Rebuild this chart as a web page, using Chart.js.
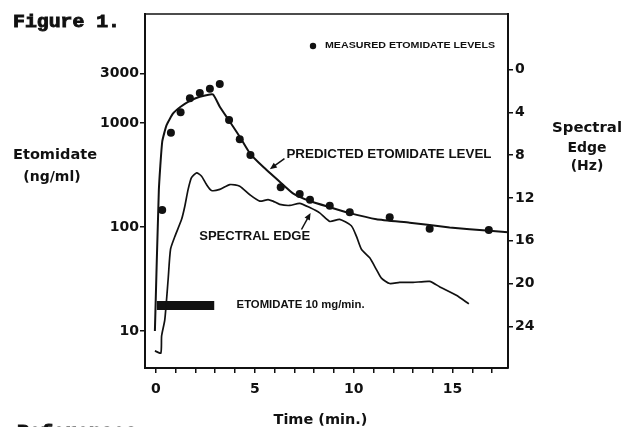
<!DOCTYPE html>
<html>
<head>
<meta charset="utf-8">
<script src="https://cdn.jsdelivr.net/npm/chart.js@4.4.1/dist/chart.umd.min.js"></script>
<style>
  html, body { margin: 0; padding: 0; background: #fff; }
  canvas { display: block; }
</style>
</head>
<body>
<canvas id="chart" width="634" height="427"></canvas>
<script>
// measured plasma levels (dots), ng/ml
const measuredTime = [0.32, 0.76, 1.25, 1.72, 2.22, 2.73, 3.23, 3.70, 4.24, 4.78, 6.31, 7.27, 7.79, 8.79, 9.80, 11.82, 13.84, 16.83];
const measuredLevel = [146, 807, 1268, 1728, 1941, 2138, 2371, 1069, 697, 492, 241, 208, 183, 160, 139, 124, 96, 93.5];

// predicted level curve, ng/ml
const predictedTime = [-0.05, 0.15, 0.32, 0.54, 0.87, 1.25, 1.72, 2.22, 2.88, 3.23, 3.74, 4.24, 4.75, 5.42, 6.26, 6.93, 7.78, 8.79, 9.80, 11.15, 12.83, 14.85, 16.87, 17.8];
const predictedLevel = [10, 227, 661, 955, 1239, 1435, 1637, 1790, 1888, 1435, 1029, 738, 512, 380, 273, 211, 178, 155, 136, 119, 110, 99, 92, 89];

// spectral edge, Hz (right axis, inverted)
const edgeTime = [-0.05, 0.25, 0.29, 0.45, 0.62, 0.74, 0.96, 1.30, 1.46, 1.63, 1.80, 2.06, 2.31, 2.56, 2.81, 3.23, 3.74, 4.24, 4.75, 5.25, 5.67, 5.92, 6.26, 6.77, 7.27, 7.78, 8.28, 8.79, 9.29, 9.88, 10.14, 10.39, 10.81, 11.15, 11.40, 11.82, 12.32, 13.00, 13.84, 14.34, 15.19, 15.82];
const edgeHz = [26.3, 26.5, 24.9, 23.4, 19.6, 16.8, 15.6, 14.0, 12.8, 11.2, 10.1, 9.65, 9.97, 10.75, 11.3, 11.2, 10.75, 10.9, 11.7, 12.3, 12.15, 12.3, 12.6, 12.7, 12.5, 12.9, 13.4, 14.2, 14.0, 14.6, 15.6, 16.8, 17.6, 18.7, 19.5, 20.0, 19.9, 19.9, 19.8, 20.3, 21.1, 21.9];

// infusion bar (10 mg/min)
const infusionTime = [0.05, 2.95];
const infusionLevel = [17.6, 17.6];

const timeTicks = [0, 1, 2, 3, 4, 5, 6, 7, 8, 9, 10, 11, 12, 13, 14, 15, 16, 17];
const timeLabels = [0, 5, 10, 15];
const levelTicks = [10, 100, 1000, 3000];
const edgeTicks = [0, 4, 8, 12, 16, 20, 24];

const INK = '#111';
const tickFont = { family: 'DejaVu Sans', size: 14, weight: 'bold' };

const pairs = (xs, ys) => xs.map((x, i) => ({ x, y: ys[i] }));

function fitText(ctx, text, x, y, font, width, align, heavy) {
  ctx.save();
  ctx.font = font;
  ctx.textBaseline = 'middle';
  ctx.textAlign = 'left';
  const w = ctx.measureText(text).width;
  const k = width ? width / w : 1;
  let left = x;
  if (align === 'center') left = x - (w * k) / 2;
  ctx.translate(left, y);
  ctx.scale(k, 1);
  ctx.fillText(text, 0, 0);
  if (heavy) {
    ctx.lineWidth = heavy;
    ctx.strokeText(text, 0, 0);
  }
  ctx.restore();
}

function arrow(ctx, x1, y1, x2, y2) {
  const a = Math.atan2(y2 - y1, x2 - x1);
  const len = 7, half = 3;
  ctx.beginPath();
  ctx.moveTo(x1, y1);
  ctx.lineTo(x2 - Math.cos(a) * len * 0.8, y2 - Math.sin(a) * len * 0.8);
  ctx.stroke();
  ctx.beginPath();
  ctx.moveTo(x2, y2);
  ctx.lineTo(x2 - Math.cos(a) * len - Math.sin(a) * half, y2 - Math.sin(a) * len + Math.cos(a) * half);
  ctx.lineTo(x2 - Math.cos(a) * len + Math.sin(a) * half, y2 - Math.sin(a) * len - Math.cos(a) * half);
  ctx.closePath();
  ctx.fill();
}

const annotate = {
  id: 'annotate',
  afterDraw(chart) {
    const { ctx, chartArea: area } = chart;
    const sx = chart.scales.x, sy = chart.scales.y, s2 = chart.scales.y2;
    ctx.save();
    ctx.fillStyle = INK;
    ctx.strokeStyle = INK;

    // top frame line
    ctx.lineWidth = 1.5;
    ctx.beginPath();
    ctx.moveTo(area.left, area.top);
    ctx.lineTo(area.right, area.top);
    ctx.stroke();

    // legend
    ctx.beginPath();
    ctx.arc(area.left + 168, area.top + 32, 3.2, 0, Math.PI * 2);
    ctx.fill();
    fitText(ctx, 'MEASURED ETOMIDATE LEVELS', area.left + 180, area.top + 32, 'bold 9px "Liberation Sans"', 170);

    // curve labels
    fitText(ctx, 'PREDICTED ETOMIDATE LEVEL', sx.getPixelForValue(6.6), sy.getPixelForValue(500), 'bold 12.5px "Liberation Sans"', 205);
    fitText(ctx, 'SPECTRAL EDGE', sx.getPixelForValue(2.19), s2.getPixelForValue(15.6), 'bold 12.5px "Liberation Sans"', 111);
    fitText(ctx, 'ETOMIDATE 10 mg/min.', sx.getPixelForValue(4.08), sy.getPixelForValue(17.6), 'bold 10.5px "Liberation Sans"', 128);

    ctx.lineWidth = 1.5;
    arrow(ctx, sx.getPixelForValue(6.5), sy.getPixelForValue(455), sx.getPixelForValue(5.76), sy.getPixelForValue(360));
    arrow(ctx, sx.getPixelForValue(7.36), s2.getPixelForValue(14.95), sx.getPixelForValue(7.82), s2.getPixelForValue(13.4));

    // axis titles
    const tf = 'bold 14px "DejaVu Sans"';
    fitText(ctx, 'Etomidate', area.left - 90, 155, tf, 84, 'center');
    fitText(ctx, '(ng/ml)', area.left - 93, 177, tf, null, 'center');
    fitText(ctx, 'Spectral', area.right + 79, 128, tf, 70, 'center');
    fitText(ctx, 'Edge', area.right + 79, 148, tf, null, 'center');
    fitText(ctx, '(Hz)', area.right + 79, 166, tf, null, 'center');
    fitText(ctx, 'Time (min.)', (area.left + area.right) / 2 - 6, 420, tf, 94, 'center');

    // page text
    fitText(ctx, 'Figure 1.', 13, 22, 'bold 19px "Liberation Mono"', 107, null, 0.9);
    fitText(ctx, 'References', 17, 432, 'bold 19px "Liberation Mono"', 120, null, 0.9);
    ctx.restore();
  }
};

new Chart(document.getElementById('chart'), {
  type: 'line',
  data: {
    datasets: [
      {
        label: 'Predicted etomidate level',
        data: pairs(predictedTime, predictedLevel),
        yAxisID: 'y',
        borderColor: INK,
        borderWidth: 2,
        pointRadius: 0,
        tension: 0.15,
      },
      {
        label: 'Measured etomidate levels',
        data: pairs(measuredTime, measuredLevel),
        yAxisID: 'y',
        showLine: false,
        pointRadius: 4,
        pointBackgroundColor: INK,
        pointBorderColor: INK,
        pointBorderWidth: 0,
      },
      {
        label: 'Spectral edge',
        data: pairs(edgeTime, edgeHz),
        yAxisID: 'y2',
        borderColor: INK,
        borderWidth: 1.7,
        pointRadius: 0,
        tension: 0.2,
      },
      {
        label: 'Etomidate 10 mg/min',
        data: pairs(infusionTime, infusionLevel),
        yAxisID: 'y',
        borderColor: INK,
        borderWidth: 9,
        borderCapStyle: 'butt',
        pointRadius: 0,
      },
    ],
  },
  options: {
    responsive: false,
    animation: false,
    layout: { padding: { top: 14 } },
    plugins: { legend: { display: false }, tooltip: { enabled: false } },
    scales: {
      x: {
        type: 'linear',
        min: -0.55,
        max: 17.8,
        afterBuildTicks: (s) => { s.ticks = timeTicks.map((v) => ({ value: v })); },
        afterFit: (s) => { s.height = 59; },
        ticks: {
          autoSkip: false,
          maxRotation: 0,
          padding: 8,
          color: INK,
          font: tickFont,
          callback: (v) => (timeLabels.includes(v) ? String(v) : ''),
        },
        grid: { drawOnChartArea: false, drawTicks: true, tickLength: 5, color: INK, lineWidth: 1.5 },
        border: { display: true, color: INK, width: 2 },
      },
      y: {
        type: 'logarithmic',
        position: 'left',
        min: 4.4,
        max: 11200,
        afterBuildTicks: (s) => { s.ticks = levelTicks.map((v) => ({ value: v })); },
        afterFit: (s) => { s.width = 145; },
        ticks: { padding: 1, color: INK, font: tickFont, callback: (v) => String(v) },
        grid: { drawOnChartArea: false, drawTicks: true, tickLength: 5, color: INK, lineWidth: 1.5 },
        border: { display: true, color: INK, width: 2 },
      },
      y2: {
        type: 'linear',
        position: 'right',
        reverse: true,
        min: -5.2,
        max: 27.9,
        afterBuildTicks: (s) => { s.ticks = edgeTicks.map((v) => ({ value: v })); },
        afterFit: (s) => { s.width = 126; },
        ticks: { padding: 2, color: INK, font: tickFont, callback: (v) => String(v) },
        grid: { drawOnChartArea: false, drawTicks: true, tickLength: 5, color: INK, lineWidth: 1.5 },
        border: { display: true, color: INK, width: 2 },
      },
    },
  },
  plugins: [annotate],
});
</script>
</body>
</html>
